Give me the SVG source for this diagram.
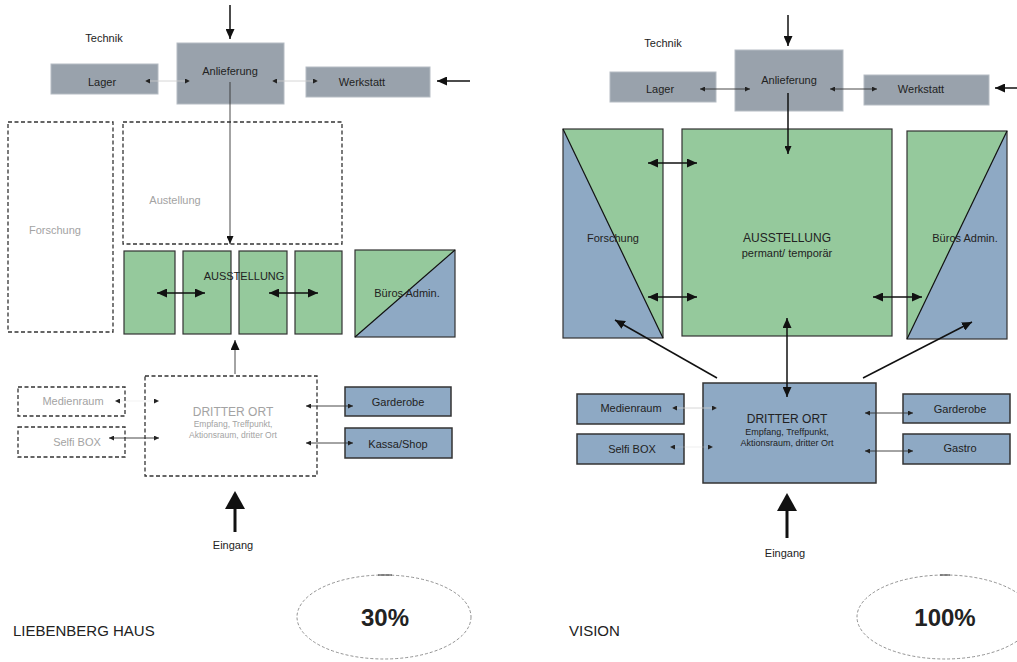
<svg xmlns="http://www.w3.org/2000/svg" width="1017" height="662" viewBox="0 0 1017 662">
<style>
text{font-family:"Liberation Sans",Arial,sans-serif;fill:#222;font-size:11px}
.c{text-anchor:middle}
.g{fill:#a3a3a3}
.gray{fill:#99a2ac;stroke:#b5bcc3;stroke-width:1}
.green{fill:#95c99c;stroke:#333;stroke-width:1.2}
.blue{fill:#8ea9c4;stroke:#333;stroke-width:1.5}
.dash{fill:none;stroke:#333;stroke-width:1.3;stroke-dasharray:4 2.5}
.ln{fill:none;stroke:#111;stroke-width:1.5}
.thin{fill:none;stroke:#333;stroke-width:0.9}
.faint{fill:none;stroke:#ccc;stroke-width:0.8}
.ov{fill:none;stroke:#777;stroke-width:0.8;stroke-dasharray:3 2}
</style>
<defs>
<marker id="sm" viewBox="0 0 6 6" refX="6" refY="3" markerWidth="5" markerHeight="5" markerUnits="userSpaceOnUse" orient="auto-start-reverse"><path d="M0,0 L6,3 L0,6 z" fill="#222"/></marker>
<marker id="md" viewBox="0 0 10 9" refX="10" refY="4.5" markerWidth="10" markerHeight="9" markerUnits="userSpaceOnUse" orient="auto-start-reverse"><path d="M0,0 L10,4.5 L0,9 z" fill="#111"/></marker>
<marker id="mds" viewBox="0 0 8 7" refX="8" refY="3.5" markerWidth="8" markerHeight="7" markerUnits="userSpaceOnUse" orient="auto-start-reverse"><path d="M0,0 L8,3.5 L0,7 z" fill="#111"/></marker>
<marker id="lg" viewBox="0 0 18 20" refX="18" refY="10" markerWidth="18" markerHeight="20" markerUnits="userSpaceOnUse" orient="auto"><path d="M0,0 L18,10 L0,20 z" fill="#111"/></marker>
</defs>

<!-- LEFT: LIEBENBERG HAUS -->
<text x="104" y="42" class="c">Technik</text>
<g id="l-lager"><rect class="gray" x="51" y="64" width="107" height="30"/><text x="102" y="86" class="c">Lager</text></g>
<g id="l-anlieferung"><rect class="gray" x="177" y="43" width="107" height="61"/><text x="230" y="75" class="c">Anlieferung</text></g>
<g id="l-werkstatt"><rect class="gray" x="306" y="67" width="124" height="30"/><text x="362" y="86" class="c">Werkstatt</text></g>
<g id="l-forschung"><rect class="dash" x="8" y="122" width="105" height="210"/><text x="55" y="234" class="c g">Forschung</text></g>
<g id="l-austellung"><rect class="dash" x="123" y="122" width="219" height="122"/><text x="175" y="204" class="c g">Austellung</text></g>
<g id="l-ausstellung">
<rect class="green" x="124" y="251" width="51" height="83"/>
<rect class="green" x="183" y="251" width="48" height="83"/>
<rect class="green" x="239" y="251" width="48" height="83"/>
<rect class="green" x="295" y="251" width="47" height="83"/>
<text x="244" y="280" class="c">AUSSTELLUNG</text>
</g>
<g id="l-bueros">
<rect x="355" y="250" width="100" height="87" fill="#8ea9c4"/>
<path d="M355,250 H455 L355,337 z" fill="#95c99c"/>
<rect x="355" y="250" width="100" height="87" fill="none" stroke="#333" stroke-width="1.2"/>
<line x1="355" y1="337" x2="455" y2="250" stroke="#111" stroke-width="1.2"/>
<text x="407" y="297" class="c">Büros Admin.</text>
</g>
<g id="l-medienraum"><rect class="dash" x="18" y="387" width="107" height="29"/><text x="73" y="405" class="c g">Medienraum</text></g>
<g id="l-selfi"><rect class="dash" x="18" y="427" width="107" height="30"/><text x="77" y="446" class="c g">Selfi BOX</text></g>
<g id="l-dritter"><rect class="dash" x="145" y="376" width="172" height="100"/>
<text x="233" y="416" class="c g" style="font-size:12px">DRITTER ORT</text>
<text x="233" y="427" class="c g" style="font-size:8.5px">Empfang, Treffpunkt,</text>
<text x="233" y="438" class="c g" style="font-size:8.5px">Aktionsraum, dritter Ort</text></g>
<g id="l-garderobe"><rect class="blue" x="345" y="387" width="106" height="29"/><text x="398" y="406" class="c">Garderobe</text></g>
<g id="l-kassa"><rect class="blue" x="345" y="428" width="107" height="30"/><text x="398" y="448" class="c">Kassa/Shop</text></g>
<text x="233" y="549" class="c">Eingang</text>
<text x="13" y="636" style="font-size:15px">LIEBENBERG HAUS</text>
<g id="l-oval"><ellipse class="ov" cx="384" cy="617" rx="87" ry="42"/><line x1="378" y1="575" x2="392" y2="575" stroke="#333" stroke-width="1"/>
<text x="385" y="626" class="c" style="font-size:24px;font-weight:bold">30%</text></g>

<!-- RIGHT: VISION -->
<text x="663" y="47" class="c">Technik</text>
<g id="r-lager"><rect class="gray" x="610" y="72" width="106" height="30"/><text x="660" y="93" class="c">Lager</text></g>
<g id="r-anlieferung"><rect class="gray" x="735" y="50" width="108" height="61"/><text x="789" y="84" class="c">Anlieferung</text></g>
<g id="r-werkstatt"><rect class="gray" x="864" y="75" width="125" height="30"/><text x="921" y="93" class="c">Werkstatt</text></g>
<g id="r-forschung">
<rect x="563" y="129" width="100" height="209" fill="#8ea9c4"/>
<path d="M563,129 H663 V338 z" fill="#95c99c"/>
<rect x="563" y="129" width="100" height="209" fill="none" stroke="#333" stroke-width="1.2"/>
<line x1="563" y1="129" x2="663" y2="338" stroke="#111" stroke-width="1.2"/>
<text x="613" y="242" class="c">Forschung</text>
</g>
<g id="r-ausstellung"><rect class="green" x="682" y="129" width="210" height="207"/>
<text x="787" y="242" class="c" style="font-size:12px">AUSSTELLUNG</text>
<text x="787" y="257" class="c">permant/ temporär</text></g>
<g id="r-bueros">
<rect x="907" y="131" width="100" height="208" fill="#8ea9c4"/>
<path d="M907,131 H1007 L907,339 z" fill="#95c99c"/>
<rect x="907" y="131" width="100" height="208" fill="none" stroke="#333" stroke-width="1.2"/>
<line x1="907" y1="339" x2="1007" y2="131" stroke="#111" stroke-width="1.2"/>
<text x="965" y="242" class="c">Büros Admin.</text>
</g>
<g id="r-dritter"><rect class="blue" x="703" y="383" width="173" height="100"/>
<text x="787" y="423" class="c" style="font-size:12px">DRITTER ORT</text>
<text x="787" y="435" class="c" style="font-size:9px">Empfang, Treffpunkt,</text>
<text x="787" y="446" class="c" style="font-size:9px">Aktionsraum, dritter Ort</text></g>
<g id="r-medienraum"><rect class="blue" x="577" y="394" width="107" height="30"/><text x="631" y="412" class="c">Medienraum</text></g>
<g id="r-selfi"><rect class="blue" x="577" y="434" width="107" height="30"/><text x="632" y="453" class="c">Selfi BOX</text></g>
<g id="r-garderobe"><rect class="blue" x="903" y="394" width="107" height="29"/><text x="960" y="413" class="c">Garderobe</text></g>
<g id="r-gastro"><rect class="blue" x="903" y="434" width="107" height="30"/><text x="960" y="452" class="c">Gastro</text></g>
<text x="785" y="557" class="c">Eingang</text>
<text x="569" y="636" style="font-size:15px">VISION</text>
<g id="r-oval"><ellipse class="ov" cx="945" cy="617" rx="88" ry="42"/><line x1="940" y1="575" x2="950" y2="575" stroke="#333" stroke-width="1"/>
<text x="945" y="626" class="c" style="font-size:24px;font-weight:bold">100%</text></g>

<!-- connectors -->
<g id="connectors">
<!-- left -->
<line class="ln" x1="230" y1="5" x2="230" y2="39" marker-end="url(#md)"/>
<line class="ln" x1="470" y1="81" x2="437" y2="81" marker-end="url(#md)"/>
<line class="faint" x1="145" y1="81" x2="190" y2="81" marker-start="url(#sm)" marker-end="url(#sm)"/>
<line class="faint" x1="272" y1="81" x2="318" y2="81" marker-start="url(#sm)" marker-end="url(#sm)"/>
<line class="thin" x1="230" y1="82" x2="230" y2="244" stroke="#111" stroke-width="1.1" marker-end="url(#mds)"/>
<line class="ln" x1="157" y1="293" x2="205" y2="293" marker-start="url(#md)" marker-end="url(#md)"/>
<line class="ln" x1="269" y1="293" x2="318" y2="293" marker-start="url(#md)" marker-end="url(#md)"/>
<line class="thin" x1="235" y1="374" x2="235" y2="340" marker-end="url(#md)"/>
<line class="faint" x1="115" y1="401" x2="159" y2="401" stroke-opacity="0.3" marker-start="url(#sm)" marker-end="url(#sm)"/>
<line class="thin" x1="109" y1="438" x2="159" y2="438" marker-start="url(#sm)" marker-end="url(#sm)"/>
<line class="thin" x1="306" y1="406" x2="353" y2="406" marker-start="url(#sm)" marker-end="url(#sm)"/>
<line class="thin" x1="306" y1="443" x2="353" y2="443" marker-start="url(#sm)" marker-end="url(#sm)"/>
<line x1="235" y1="532" x2="235" y2="509" stroke="#111" stroke-width="3"/>
<line x1="235" y1="512" x2="235" y2="491" stroke="none" marker-end="url(#lg)"/>
<!-- right -->
<line class="ln" x1="788" y1="15" x2="788" y2="46" marker-end="url(#md)"/>
<line class="ln" x1="1017" y1="88" x2="995" y2="88" marker-end="url(#md)"/>
<line class="thin" x1="700" y1="89" x2="750" y2="89" stroke="#777" marker-start="url(#sm)" marker-end="url(#sm)"/>
<line class="thin" x1="830" y1="89" x2="877" y2="89" stroke="#777" marker-start="url(#sm)" marker-end="url(#sm)"/>
<line class="ln" x1="788" y1="93" x2="788" y2="154" marker-end="url(#mds)"/>
<line class="ln" x1="648" y1="163" x2="697" y2="163" marker-start="url(#md)" marker-end="url(#md)"/>
<line class="ln" x1="648" y1="297" x2="697" y2="297" marker-start="url(#md)" marker-end="url(#md)"/>
<line class="ln" x1="873" y1="297" x2="922" y2="297" marker-start="url(#md)" marker-end="url(#md)"/>
<line class="ln" x1="787" y1="318" x2="787" y2="397" marker-start="url(#md)" marker-end="url(#md)"/>
<line class="ln" x1="717" y1="378" x2="615" y2="320" marker-end="url(#md)"/>
<line class="ln" x1="863" y1="378" x2="972" y2="322" marker-end="url(#md)"/>
<line class="faint" x1="672" y1="408" x2="717" y2="408" marker-start="url(#sm)" marker-end="url(#sm)"/>
<line class="faint" x1="670" y1="447" x2="713" y2="447" stroke-opacity="0.4" marker-start="url(#sm)" marker-end="url(#sm)"/>
<line class="thin" x1="865" y1="413" x2="913" y2="413" marker-start="url(#sm)" marker-end="url(#sm)"/>
<line class="thin" x1="865" y1="451" x2="913" y2="451" marker-start="url(#sm)" marker-end="url(#sm)"/>
<line x1="787" y1="538" x2="787" y2="509" stroke="#111" stroke-width="3"/>
<line x1="787" y1="512" x2="787" y2="493" stroke="none" marker-end="url(#lg)"/>
</g>
</svg>
